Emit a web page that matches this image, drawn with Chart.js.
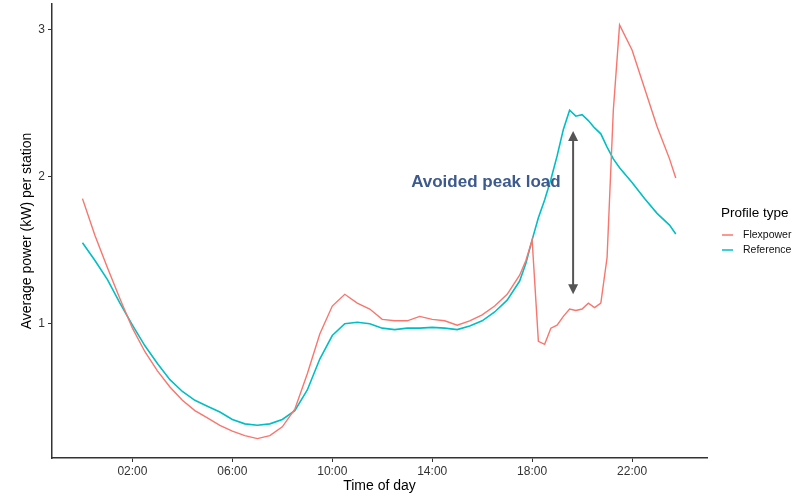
<!DOCTYPE html>
<html>
<head>
<meta charset="utf-8">
<script src="https://cdn.jsdelivr.net/npm/chart.js@4.4.0/dist/chart.umd.min.js"></script>
<style>
    html, body { margin: 0; padding: 0; background: #fff; }
    #wrap { width: 802px; height: 502px; }
</style>
</head>
<body>
<div id="wrap"><canvas id="powerChart" width="802" height="502"></canvas></div>
<script>
"use strict";

// time of day in hours
var hours = [0, 0.5, 1, 1.5, 2, 2.5, 3, 3.5, 4, 4.5, 5, 5.5, 6, 6.5, 7, 7.5, 8, 8.5, 9, 9.5,
    10, 10.5, 11, 11.5, 12, 12.5, 13, 13.5, 14, 14.5, 15, 15.5, 16, 16.5, 17, 17.5, 17.75,
    18, 18.25, 18.5, 18.75, 19, 19.25, 19.5, 19.75, 20, 20.25, 20.5, 20.75, 21, 21.25, 21.5,
    22, 22.5, 23, 23.5, 23.75];

var flexpower = [1.85, 1.60, 1.38, 1.17, 0.97, 0.81, 0.68, 0.57, 0.48, 0.41, 0.36, 0.31, 0.27, 0.24, 0.22, 0.24, 0.30, 0.42, 0.66, 0.93,
    1.12, 1.20, 1.14, 1.10, 1.03, 1.02, 1.02, 1.05, 1.03, 1.02, 0.99, 1.02, 1.06, 1.12, 1.20, 1.33, 1.43,
    1.57, 0.88, 0.86, 0.97, 0.99, 1.05, 1.10, 1.09, 1.10, 1.14, 1.11, 1.14, 1.45, 2.45, 3.03,
    2.86, 2.60, 2.34, 2.12, 1.99];

var reference = [1.55, 1.43, 1.30, 1.14, 0.99, 0.85, 0.73, 0.62, 0.54, 0.48, 0.44, 0.40, 0.35, 0.32, 0.31, 0.32, 0.35, 0.41, 0.55, 0.76,
    0.92, 1.00, 1.01, 1.00, 0.97, 0.96, 0.97, 0.97, 0.975, 0.97, 0.96, 0.985, 1.02, 1.08, 1.16, 1.29, 1.41,
    1.57, 1.72, 1.84, 1.98, 2.14, 2.32, 2.45, 2.41, 2.42, 2.38, 2.33, 2.29, 2.20, 2.12, 2.06,
    1.96, 1.85, 1.75, 1.67, 1.61];

var seriesNames = ["Flexpower", "Reference"];
var xTicks = [2, 6, 10, 14, 18, 22];
var yTicks = [1, 2, 3];

var fontFamily = "'Liberation Sans', Arial, Helvetica, sans-serif";
var colors = ["#F8766D", "#00BFC4"];

// annotation in data units
var peakArrow = { hour: 19.64, top: 2.31, bottom: 1.2 };
var peakLabel = { hour: 16.15, value: 1.96, text: "Avoided peak load" };

function toPoints(values) {
    var pts = [];
    for (var i = 0; i < hours.length; i++) pts.push({ x: hours[i], y: values[i] });
    return pts;
}

function arrowHead(ctx, x, y, dir) {
    ctx.beginPath();
    ctx.moveTo(x, y);
    ctx.lineTo(x - 5, y - dir * 10);
    ctx.lineTo(x + 5, y - dir * 10);
    ctx.closePath();
    ctx.fill();
}

var overlayPlugin = {
    id: "overlay",
    afterDatasetsDraw: function(chart) {
        var ctx = chart.ctx, xs = chart.scales.x, ys = chart.scales.y;
        ctx.save();

        // double arrow
        var ax = xs.getPixelForValue(peakArrow.hour),
            y1 = ys.getPixelForValue(peakArrow.top),
            y2 = ys.getPixelForValue(peakArrow.bottom);
        ctx.strokeStyle = "#555555";
        ctx.fillStyle = "#555555";
        ctx.lineWidth = 2;
        ctx.beginPath();
        ctx.moveTo(ax, y1 + 8);
        ctx.lineTo(ax, y2 - 8);
        ctx.stroke();
        arrowHead(ctx, ax, y1, -1);
        arrowHead(ctx, ax, y2, 1);

        ctx.fillStyle = "#3D5A8E";
        ctx.font = "bold 17px " + fontFamily;
        ctx.textAlign = "center";
        ctx.textBaseline = "middle";
        ctx.fillText(peakLabel.text, xs.getPixelForValue(peakLabel.hour), ys.getPixelForValue(peakLabel.value));

        // legend
        ctx.textAlign = "left";
        ctx.fillStyle = "#000";
        ctx.font = "13.5px " + fontFamily;
        ctx.fillText("Profile type", 721, 213);
        ctx.font = "10.5px " + fontFamily;
        for (var i = 0; i < seriesNames.length; i++) {
            var ly = 235 + i * 15;
            ctx.strokeStyle = colors[i];
            ctx.lineWidth = 1.5;
            ctx.beginPath();
            ctx.moveTo(722, ly);
            ctx.lineTo(733, ly);
            ctx.stroke();
            ctx.fillStyle = "#111";
            ctx.fillText(seriesNames[i], 743, ly);
        }
        ctx.restore();
    }
};

var chart = new Chart(document.getElementById("powerChart").getContext("2d"), {
    type: "line",
    data: {
        datasets: [{
            label: seriesNames[0],
            data: toPoints(flexpower),
            borderColor: colors[0],
            borderWidth: 1.4,
            pointRadius: 0,
            tension: 0,
            fill: false
        }, {
            label: seriesNames[1],
            data: toPoints(reference),
            borderColor: colors[1],
            borderWidth: 1.6,
            pointRadius: 0,
            tension: 0,
            fill: false
        }]
    },
    options: {
        responsive: false,
        animation: false,
        devicePixelRatio: 1,
        layout: { padding: { top: 4, right: 95, left: 0, bottom: 0 } },
        plugins: {
            legend: { display: false },
            tooltip: { enabled: false }
        },
        scales: {
            x: {
                type: "linear",
                min: -1.22,
                max: 25,
                afterBuildTicks: function(s) { s.ticks = xTicks.map(function(v) { return { value: v }; }); },
                afterFit: function(s) { s.height = 44; s.paddingLeft = 0; s.paddingRight = 0; },
                ticks: {
                    autoSkip: false,
                    maxRotation: 0,
                    padding: 2,
                    color: "#333",
                    font: { family: fontFamily, size: 12 },
                    callback: function(v) { return (v < 10 ? "0" : "") + v + ":00"; }
                },
                grid: { drawOnChartArea: false, tickLength: 4, color: "#333" },
                border: { color: "#333", width: 1.5 },
                title: {
                    display: true,
                    text: "Time of day",
                    color: "#000",
                    font: { family: fontFamily, size: 14 },
                    padding: { top: 0, bottom: 7 }
                }
            },
            y: {
                min: 0.088,
                max: 3.172,
                afterBuildTicks: function(s) { s.ticks = yTicks.map(function(v) { return { value: v }; }); },
                afterFit: function(s) { s.width = 52; s.paddingTop = 0; s.paddingBottom = 0; },
                ticks: {
                    padding: 3,
                    color: "#333",
                    font: { family: fontFamily, size: 12 },
                    callback: function(v) { return String(v); }
                },
                grid: { drawOnChartArea: false, tickLength: 4, color: "#333" },
                border: { color: "#333", width: 1.5 },
                title: {
                    display: true,
                    text: "Average power (kW) per station",
                    color: "#000",
                    font: { family: fontFamily, size: 14 },
                    padding: { top: 19, bottom: 0 }
                }
            }
        }
    },
    plugins: [overlayPlugin]
});
</script>
</body>
</html>
